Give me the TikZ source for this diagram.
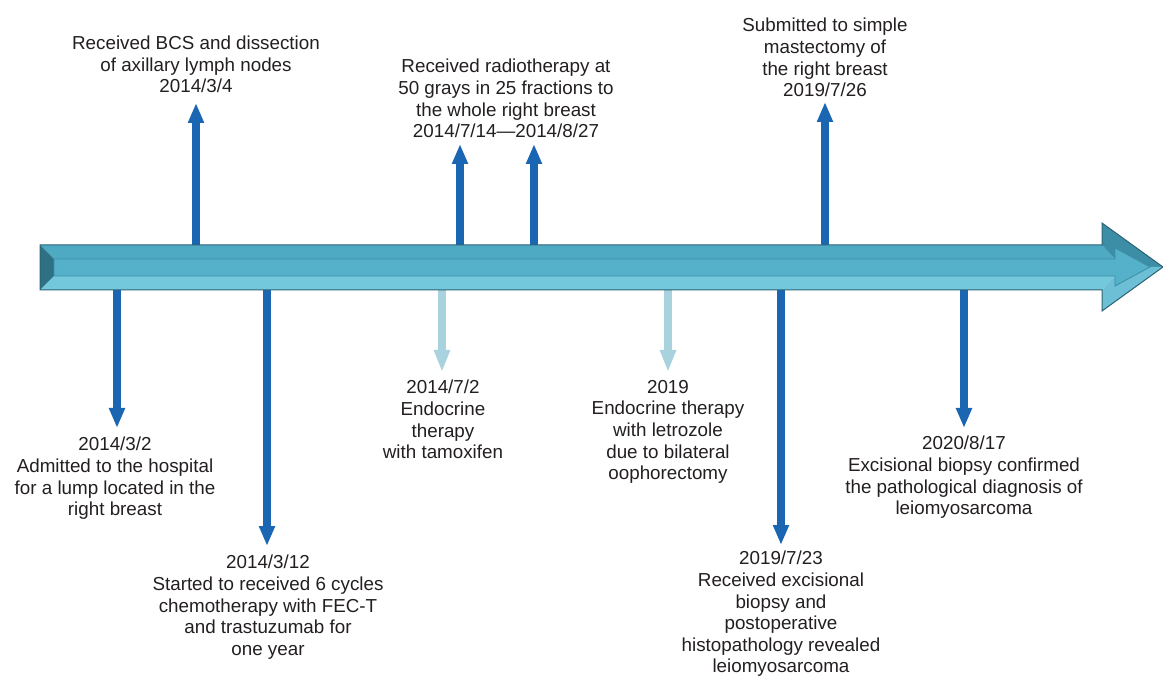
\documentclass[tikz,border=0pt]{standalone}
\usepackage{fontspec}
\setmainfont{Liberation Sans}
\usetikzlibrary{arrows.meta,positioning}
\definecolor{evtdark}{HTML}{1A66B2}
\definecolor{evtlight}{HTML}{A9D2DF}
\definecolor{txtgray}{HTML}{231F20}
\definecolor{barface}{HTML}{54B1C9}
\definecolor{bartop}{HTML}{4EAAC2}
\definecolor{barhead}{HTML}{3C8EA6}
\definecolor{barlow}{HTML}{74C8DC}
\definecolor{barleft}{HTML}{2F7184}
\definecolor{barline}{HTML}{2C6376}
\tikzset{
  evt/.style={align=center, inner sep=0pt, text=txtgray, font=\fontsize{18.8}{21.6}\selectfont},
  darkarr/.style={draw=evtdark, line width=7.5pt, -{Triangle[width=15pt,length=20pt]}},
  lightarr/.style={draw=evtlight, line width=7.5pt, -{Triangle[width=15pt,length=22pt]}}
}
\begin{document}
\begin{tikzpicture}[x=1pt,y=-1pt]
        \useasboundingbox (0,0) rectangle (1163,676);

        \node[evt, anchor=south] (lBCS) at (196,93) {Received BCS and dissection\\of axillary lymph nodes\\2014/3/4};
        \node[evt, anchor=south] (lRadio) at (506,138) {Received radiotherapy at\\50 grays in 25 fractions to\\the whole right breast\\2014/7/14—2014/8/27};
        \node[evt, anchor=south] (lMast) at (825,97) {Submitted to simple\\mastectomy of\\the right breast\\2019/7/26};
        \node[evt, anchor=north] (lAdmit) at (115,437) {2014/3/2\\Admitted to the hospital\\for a lump located in the\\right breast};
        \node[evt, anchor=north] (lChemo) at (268,555) {2014/3/12\\Started to received 6 cycles\\chemotherapy with FEC-T\\and trastuzumab for\\one year};
        \node[evt, anchor=north] (lTamox) at (443,380) {2014/7/2\\Endocrine\\therapy\\with tamoxifen};
        \node[evt, anchor=north] (lLetro) at (668,380) {2019\\Endocrine therapy\\with letrozole\\due to bilateral\\oophorectomy};
        \node[evt, anchor=north] (lExcis) at (781,551) {2019/7/23\\Received excisional\\biopsy and\\postoperative\\histopathology revealed\\leiomyosarcoma};
        \node[evt, anchor=north] (lConf) at (964,436) {2020/8/17\\Excisional biopsy confirmed\\the pathological diagnosis of\\leiomyosarcoma};

        \coordinate (bBCS) at (196,267);
        \coordinate (bRadioA) at (460,267);
        \coordinate (bRadioB) at (534,267);
        \coordinate (bMast) at (825,267);
        \coordinate (bAdmit) at (117,267);
        \coordinate (bChemo) at (267,267);
        \coordinate (bTamox) at (442,267);
        \coordinate (bLetro) at (668,267);
        \coordinate (bExcis) at (781,267);
        \coordinate (bConf) at (964,267);

        \draw[darkarr, shorten >=10pt] (bBCS) -- (bBCS |- lBCS.south);
        \draw[darkarr, shorten >=6pt] (bRadioA) -- (bRadioA |- lRadio.south);
        \draw[darkarr, shorten >=6pt] (bRadioB) -- (bRadioB |- lRadio.south);
        \draw[darkarr, shorten >=5pt] (bMast) -- (bMast |- lMast.south);
        \draw[darkarr, shorten >=9pt] (bAdmit) -- (bAdmit |- lAdmit.north);
        \draw[darkarr, shorten >=9pt] (bChemo) -- (bChemo |- lChemo.north);
        \draw[lightarr, shorten >=8pt] (bTamox) -- (bTamox |- lTamox.north);
        \draw[lightarr, shorten >=8pt] (bLetro) -- (bLetro |- lLetro.north);
        \draw[darkarr, shorten >=6pt] (bExcis) -- (bExcis |- lExcis.north);
        \draw[darkarr, shorten >=8pt] (bConf) -- (bConf |- lConf.north);

        \fill[bartop] (40,245) -- (1102,245) -- (1115,259) -- (54,259) -- cycle;
        \fill[barhead] (1102,245) -- (1102,223) -- (1163,267) -- (1150,267) -- (1115,248) -- (1115,259) -- cycle;
        \fill[barlow] (40,290) -- (1102,290) -- (1115,276) -- (54,276) -- cycle;
        \fill[barlow!85!barhead] (1102,290) -- (1102,311) -- (1163,267) -- (1150,267) -- (1115,286) -- (1115,276) -- cycle;
        \fill[barleft] (40,245) -- (54,259) -- (54,276) -- (40,290) -- cycle;
        \filldraw[fill=barface, draw=barhead, line width=0.8pt] (54,259) -- (1115,259) -- (1115,248) -- (1150,267) -- (1115,286) -- (1115,276) -- (54,276) -- cycle;
        \draw[barline, line width=1pt] (40,245) -- (1102,245) -- (1102,223) -- (1163,267) -- (1102,311) -- (1102,290) -- (40,290) -- cycle;
    \end{tikzpicture}
\end{document}
